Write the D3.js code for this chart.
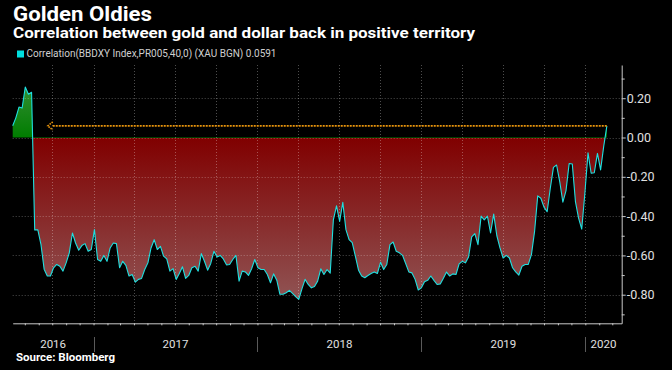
<head>
    <script src="https://cdnjs.cloudflare.com/ajax/libs/d3/7.8.5/d3.min.js"></script>
</head>

<style>
body {
    margin: 0;
    background: #000;
}
text {
    font-family: Roboto, "DejaVu Sans", sans-serif;
}
</style>

<body>
    <svg id="chart"></svg>

<script>

const width = 672, height = 370;

// weekly readings of the 40-day correlation, starting 2016-07-05
const startDate = '2016-07-05';
const weeklyValues = [
	0.06, 0.10, 0.155, 0.15, 0.257, 0.22, 0.23, -0.47, -0.47, -0.545,
	-0.67, -0.705, -0.705, -0.663, -0.646, -0.655, -0.68, -0.638, -0.587, -0.486,
	-0.537, -0.574, -0.55, -0.54, -0.579, -0.57, -0.469, -0.621, -0.63, -0.60,
	-0.63, -0.562, -0.537, -0.54, -0.663, -0.63, -0.651, -0.705, -0.697, -0.736,
	-0.722, -0.717, -0.672, -0.638, -0.562, -0.52, -0.57, -0.554, -0.604, -0.618,
	-0.68, -0.667, -0.722, -0.692, -0.658, -0.717, -0.702, -0.663, -0.655, -0.68,
	-0.591, -0.63, -0.675, -0.641, -0.579, -0.608, -0.60, -0.618, -0.648, -0.646,
	-0.621, -0.60, -0.731, -0.68, -0.684, -0.702, -0.668, -0.621, -0.663, -0.672,
	-0.672, -0.697, -0.739, -0.694, -0.726, -0.798, -0.798, -0.79, -0.778, -0.793,
	-0.81, -0.824, -0.77, -0.722, -0.748, -0.765, -0.758, -0.731, -0.668, -0.697,
	-0.672, -0.69, -0.419, -0.348, -0.427, -0.33, -0.469, -0.52, -0.535, -0.604,
	-0.675, -0.705, -0.714, -0.702, -0.692, -0.684, -0.692, -0.635, -0.672, -0.646,
	-0.545, -0.532, -0.579, -0.587, -0.60, -0.641, -0.684, -0.689, -0.722, -0.776,
	-0.765, -0.734, -0.727, -0.705, -0.727, -0.748, -0.745, -0.716, -0.685, -0.705,
	-0.694, -0.697, -0.643, -0.63, -0.638, -0.608, -0.506, -0.489, -0.545, -0.40,
	-0.419, -0.40, -0.486, -0.39, -0.50, -0.562, -0.613, -0.60, -0.613, -0.663,
	-0.684, -0.70, -0.655, -0.646, -0.646, -0.596, -0.478, -0.297, -0.309, -0.354,
	-0.378, -0.258, -0.152, -0.14, -0.224, -0.329, -0.27, -0.132, -0.135, -0.326,
	-0.41, -0.466, -0.284, -0.078, -0.182, -0.179, -0.081, -0.165, -0.044, 0.0591
];

const yTicks = [0.2, 0, -0.2, -0.4, -0.6, -0.8];
const yTickLabels = ['0.20', '0.00', '-0.20', '-0.40', '-0.60', '-0.80'];
const yMinorTicks = [0.3, 0.1, -0.1, -0.3, -0.5, -0.7, -0.9];
const years = ['2016', '2017', '2018', '2019', '2020'];
const annotationStart = '2016-09-21';
const lastValue = 0.0591;

const parse = d3.timeParse('%Y-%m-%d');
const t0 = parse(startDate);
const data = weeklyValues.map((v, i) => ({ date: d3.timeDay.offset(t0, 7 * i), value: v }));
const lastDate = data[data.length - 1].date;

const plotLeft = 12.7, plotRight = 621.7, plotTop = 65, plotBottom = 323.3;

const x = d3.scaleTime()
	.domain([parse('2016-07-05'), parse('2020-03-22')])
	.range([plotLeft, plotRight]);
const y = d3.scaleLinear()
	.domain([-0.9455, 0.369])
	.range([plotBottom, plotTop]);

const svg = d3.select('svg#chart')
	.attr('width', width)
	.attr('height', height)
	.style('background', '#000');

// gradient: green above zero, red below, greying away from zero
const zeroOff = (y(0) - plotTop) / (plotBottom - plotTop);
const grad = svg.append('defs').append('linearGradient')
	.attr('id', 'fillGrad')
	.attr('gradientUnits', 'userSpaceOnUse')
	.attr('x1', 0).attr('x2', 0)
	.attr('y1', plotTop).attr('y2', plotBottom);
grad.append('stop').attr('offset', 0).attr('stop-color', 'rgb(72,148,72)');
grad.append('stop').attr('offset', zeroOff).attr('stop-color', 'rgb(0,125,0)');
grad.append('stop').attr('offset', zeroOff).attr('stop-color', 'rgb(128,0,0)');
grad.append('stop').attr('offset', 1).attr('stop-color', 'rgb(146,96,96)');

const area = d3.area()
	.x(d => x(d.date))
	.y0(y(0))
	.y1(d => y(d.value));

svg.append('path')
	.datum(data)
	.attr('d', area)
	.attr('fill', 'url(#fillGrad)');

// grid
const quarters = d3.timeMonth.every(3).range(x.domain()[0], x.domain()[1]);
const grid = svg.append('g')
	.attr('stroke', '#fff')
	.attr('stroke-opacity', 0.3)
	.attr('stroke-dasharray', '1,2');
grid.selectAll('line.h').data(yTicks).enter().append('line')
	.attr('x1', plotLeft).attr('x2', plotRight)
	.attr('y1', d => Math.round(y(d)) + 0.5)
	.attr('y2', d => Math.round(y(d)) + 0.5);
grid.selectAll('line.v').data(quarters).enter().append('line')
	.attr('y1', plotTop).attr('y2', plotBottom)
	.attr('x1', d => Math.round(x(d)) + 0.5)
	.attr('x2', d => Math.round(x(d)) + 0.5);

// series line
svg.append('path')
	.datum(data)
	.attr('d', d3.line().x(d => x(d.date)).y(d => y(d.value)))
	.attr('fill', 'none')
	.attr('stroke', '#1fe0e0')
	.attr('stroke-width', 1.1)
	.attr('stroke-linejoin', 'round');

// last value marker line
const ay = y(lastValue);
const ax = x(parse(annotationStart));
const ann = svg.append('g')
	.attr('stroke', '#e8940c')
	.attr('stroke-width', 1.6)
	.attr('fill', 'none');
ann.append('line')
	.attr('x1', ax + 5).attr('x2', x(lastDate))
	.attr('y1', ay).attr('y2', ay)
	.attr('stroke-dasharray', '2,1');
ann.append('path')
	.attr('d', `M${ax + 5},${ay - 4}L${ax},${ay}L${ax + 5},${ay + 4}`)
	.attr('stroke-dasharray', '1.5,1');

// axes
const yAxis = svg.append('g')
	.attr('transform', `translate(${plotRight},0)`)
	.call(d3.axisRight(y)
		.tickValues(yTicks)
		.tickFormat((d, i) => yTickLabels[i])
		.tickSize(4)
		.tickSizeOuter(0)
		.tickPadding(1));
svg.append('g')
	.attr('transform', `translate(${plotRight},0)`)
	.call(d3.axisRight(y).tickValues(yMinorTicks).tickFormat('').tickSize(3).tickSizeOuter(0))
	.select('.domain').remove();

const xAxis = svg.append('g')
	.attr('transform', `translate(0,${plotBottom})`)
	.call(d3.axisBottom(x)
		.ticks(d3.timeMonth.every(1))
		.tickFormat('')
		.tickSize(2)
		.tickSizeOuter(0));

svg.selectAll('.domain, .tick line').attr('stroke', '#c8c8c8');
yAxis.selectAll('text')
	.attr('fill', '#e0e0e0')
	.style('font-size', '12.5px')
	.style('font-family', 'Roboto, sans-serif');

// year separators and labels
const yearStarts = years.map(yr => parse(yr + '-01-01'));
svg.selectAll('line.sep').data(yearStarts.slice(1)).enter().append('line')
	.attr('x1', d => Math.round(x(d)) + 0.5)
	.attr('x2', d => Math.round(x(d)) + 0.5)
	.attr('y1', 337).attr('y2', 352)
	.attr('stroke', '#5a5a5a');
svg.selectAll('text.year').data(years).enter().append('text')
	.attr('x', (d, i) => {
		const a = Math.max(x(yearStarts[i]), plotLeft);
		const b = i < years.length - 1 ? x(yearStarts[i + 1]) : plotRight;
		return (a + b) / 2;
	})
	.attr('y', 347.7)
	.attr('text-anchor', 'middle')
	.attr('fill', '#e0e0e0')
	.style('font-size', '11.5px')
	.text(d => d);

// titles, legend, source
svg.append('text')
	.attr('x', 13).attr('y', 20.5)
	.attr('fill', '#fff')
	.attr('textLength', 139)
	.attr('lengthAdjust', 'spacingAndGlyphs')
	.style('font-size', '20px').style('font-weight', 'bold')
	.text('Golden Oldies');
svg.append('text')
	.attr('x', 13).attr('y', 37.5)
	.attr('fill', '#fff')
	.attr('textLength', 462)
	.attr('lengthAdjust', 'spacingAndGlyphs')
	.style('font-size', '15px').style('font-weight', 'bold')
	.text('Correlation between gold and dollar back in positive territory');

svg.append('rect')
	.attr('x', 17).attr('y', 50.5)
	.attr('width', 7).attr('height', 7)
	.attr('fill', '#00dede');
svg.append('text')
	.attr('x', 26.5).attr('y', 57.3)
	.attr('fill', '#cfcfcf')
	.attr('textLength', 250)
	.attr('lengthAdjust', 'spacingAndGlyphs')
	.style('font-size', '10px')
	.text('Correlation(BBDXY Index,PR005,40,0) (XAU BGN) 0.0591');

svg.append('text')
	.attr('x', 16).attr('y', 361)
	.attr('fill', '#fff')
	.attr('textLength', 99)
	.attr('lengthAdjust', 'spacingAndGlyphs')
	.style('font-size', '10.5px').style('font-weight', 'bold')
	.text('Source: Bloomberg');

</script>
</body>
